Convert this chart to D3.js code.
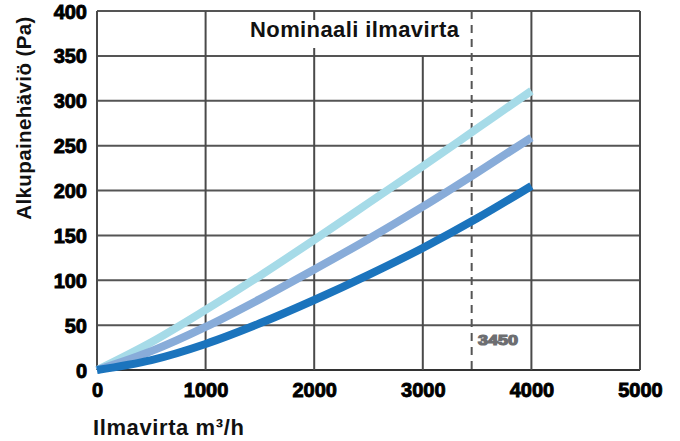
<!DOCTYPE html>
<html><head><meta charset="utf-8">
<script src="https://cdn.jsdelivr.net/npm/d3@7"></script>
<style>
body{margin:0;background:#fff;}
text{font-family:"Liberation Sans",Arial,sans-serif;font-weight:bold;}
</style></head>
<body><svg id="c" width="680" height="441"></svg>
<script>
const flow = [0, 500, 1000, 1500, 2000, 2500, 3000, 3500, 4000];
const seriesLight = [0, 31, 67, 105, 145, 186, 227, 269, 311];
const seriesMedium = [0, 21, 48, 79, 112, 146, 182, 220, 259];
const seriesDark = [0, 11, 29, 52, 78, 106, 136, 169, 205];
const seriesColors = ["#a6dbe8", "#88acd9", "#1b74bd"];
const xTicks = [0, 1000, 2000, 3000, 4000, 5000];
const yTicks = [0, 50, 100, 150, 200, 250, 300, 350, 400];
const nominal = 3450;
const nominalLabel = "3450";
const title = "Nominaali ilmavirta";
const xTitle = "Ilmavirta m³/h";
const yTitle = "Alkupainehäviö (Pa)";

const svg = d3.select("#c");
const x = d3.scaleLinear().domain([0, 5000]).range([97, 640]);
const y = d3.scaleLinear().domain([0, 400]).range([370, 11]);
const gridColor = "#4a4a4a";

// horizontal grid
svg.append("g").selectAll("line").data(yTicks).join("line")
  .attr("x1", x(0)).attr("x2", x(5000))
  .attr("y1", d => y(d)).attr("y2", d => y(d))
  .attr("stroke", d => d === 0 ? "#333" : "#555").attr("stroke-width", 2);
// vertical grid
svg.append("g").selectAll("line").data(xTicks).join("line")
  .attr("x1", d => x(d)).attr("x2", d => x(d))
  .attr("y1", d => d === 3000 ? y(350) : y(400)).attr("y2", y(0))
  .attr("stroke", gridColor).attr("stroke-width", 2);

// title box
svg.append("rect").attr("x", 240).attr("y", 20).attr("width", 228).attr("height", 28).attr("fill", "#fff");
svg.append("text").attr("x", 250).attr("y", 37).attr("font-size", 22).attr("letter-spacing", 0.4)
  .attr("fill", "#111").text(title);

// nominal dashed line
svg.append("line").attr("x1", x(nominal)).attr("x2", x(nominal))
  .attr("y1", y(400)).attr("y2", y(0))
  .attr("stroke", "#555").attr("stroke-width", 2).attr("stroke-dasharray", "8,6");
svg.append("text").attr("x", 478).attr("y", 345).attr("font-size", 14).attr("fill", "#6d6e71")
  .attr("textLength", 40).attr("lengthAdjust", "spacingAndGlyphs")
  .attr("stroke", "#6d6e71").attr("stroke-width", 1.2).text(nominalLabel);

// curves
const line = d3.line().x((d, i) => x(flow[i])).y(d => y(d)).curve(d3.curveMonotoneX);
[seriesLight, seriesMedium, seriesDark].forEach((s, k) => {
  svg.append("path").attr("d", line(s)).attr("fill", "none")
    .attr("stroke", seriesColors[k]).attr("stroke-width", 8).attr("stroke-linecap", "butt");
});

// axes
const xAxis = d3.axisBottom(x).tickValues(xTicks).tickSize(0).tickFormat(d3.format("d"));
const gx = svg.append("g").attr("transform", `translate(0,${y(0)})`).call(xAxis);
gx.select(".domain").remove();
gx.selectAll("text").attr("dy", 0).attr("y", 27).attr("font-size", 20).attr("fill", "#000")
  .attr("stroke", "#000").attr("stroke-width", 0.9)
  .style("font-family", '"Liberation Sans",Arial,sans-serif').style("font-weight", "bold");

const yAxis = d3.axisLeft(y).tickValues(yTicks).tickSize(0).tickFormat(d3.format("d"));
const gy = svg.append("g").attr("transform", `translate(${x(0)},0)`).call(yAxis);
gy.select(".domain").remove();
gy.selectAll("text").attr("x", -10).attr("dy", "0.35em").attr("font-size", 20).attr("fill", "#000")
  .attr("stroke", "#000").attr("stroke-width", 0.9)
  .style("font-family", '"Liberation Sans",Arial,sans-serif').style("font-weight", "bold");

// axis titles
svg.append("text").attr("x", 93).attr("y", 435).attr("font-size", 22).attr("letter-spacing", 0.6)
  .attr("fill", "#111").text(xTitle);
svg.append("text").attr("transform", "translate(31,118) rotate(-90)").attr("text-anchor", "middle")
  .attr("font-size", 20.5).attr("letter-spacing", 0.4).attr("fill", "#111").text(yTitle);
</script></body></html>
